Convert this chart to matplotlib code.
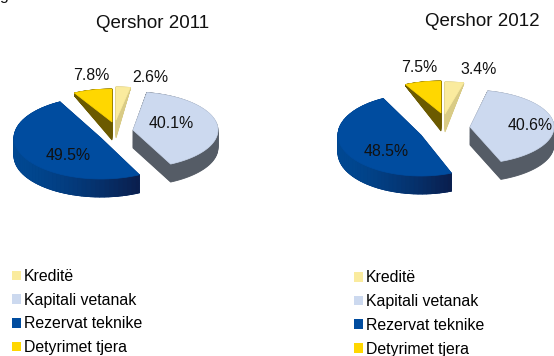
import numpy as np
import matplotlib
matplotlib.use("Agg")
import matplotlib.pyplot as plt
from matplotlib.patches import Polygon, Patch
from matplotlib.collections import PolyCollection
from matplotlib.colors import to_rgb

plt.rcParams['font.family'] = ['Liberation Sans', 'DejaVu Sans']

categories = ["Kreditë", "Kapitali vetanak", "Rezervat teknike", "Detyrimet tjera"]
values_2011 = [2.6, 40.1, 49.5, 7.8]
values_2012 = [3.4, 40.6, 48.5, 7.5]
titles = ["Qershor 2011", "Qershor 2012"]

top_colors = ["#FAEB9E", "#CCD9EF", "#004C9F", "#FFD700"]
side_colors = ["#D9CB85", "#555C66", "#00337A", "#6B5A00"]

# layout (pixels): per-slice apex x, apex y, radius x, radius y
geom_2011 = [(116, 120, 88, 33), (133, 130, 85, 38), (101, 138, 87, 41), (112, 122, 80, 33)]
geom_2012 = [(445, 114, 88, 32), (470, 127, 84, 37), (421, 135, 83, 41), (441, 113, 78, 32)]
label_pos_2011 = [(150, 77), (171, 124), (68, 155), (91, 76)]
label_pos_2012 = [(479, 70), (530, 125), (386, 151), (419, 68)]
title_pos = [(153, 24), (482, 21)]
back_y = [88, 82]
depth = 18

fig = plt.figure(figsize=(5.54, 3.56), dpi=100)
ax = fig.add_axes([0, 0, 1, 1])
ax.set_xlim(0, 554)
ax.set_ylim(356, 0)
ax.axis('off')


def draw_pie(values, geom, labels_at, title, tpos, y0):
    edges = np.cumsum([0] + list(values)) / sum(values) * 2 * np.pi
    for i, (g, lp) in enumerate(zip(geom, labels_at)):
        cx, cy, rx, ry = g
        a = np.linspace(edges[i], edges[i + 1], 60)
        rim = np.column_stack([cx + rx * np.sin(a), cy - ry * np.cos(a)])
        pts = np.vstack([[cx, cy], rim])
        off = depth * np.clip((pts[:, 1] - y0) / 30, 0.08, 1)
        for t in np.linspace(1, 0.02, 24):
            shifted = pts.copy()
            shifted[:, 1] += t * off
            ax.add_patch(Polygon(shifted, closed=True, fc=side_colors[i], ec=side_colors[i], lw=0.6))
        if i == 2:  # horizontal shading on the outer rim of the large slice
            r = pts[1:]
            o = off[1:]
            quads, cols = [], []
            left, right = r[:, 0].min(), r[:, 0].max()
            c0 = np.array(to_rgb("#004892"))
            c1 = np.array(to_rgb("#0A1F4E"))
            for k in range(len(r) - 1):
                quads.append([r[k], r[k + 1], r[k + 1] + [0, o[k + 1]], r[k] + [0, o[k]]])
                f = (r[k, 0] - left) / (right - left)
                cols.append(c0 + (c1 - c0) * f ** 1.5)
            ax.add_collection(PolyCollection(quads, facecolors=cols, edgecolors=cols, linewidths=0.6))
        ax.add_patch(Polygon(pts, closed=True, fc=top_colors[i], ec=top_colors[i], lw=0.5))
        ax.text(lp[0], lp[1], f"{values[i]:.1f}%", ha='center', va='center', fontsize=11.4, color='#111111')
    ax.text(tpos[0], tpos[1], title, ha='center', va='center', fontsize=13.5, color='#111111')


draw_pie(values_2011, geom_2011, label_pos_2011, titles[0], title_pos[0], back_y[0])
draw_pie(values_2012, geom_2012, label_pos_2012, titles[1], title_pos[1], back_y[1])

handles = [Patch(fc=c, ec='none', label=n) for c, n in zip(top_colors, categories)]
legend_kw = dict(handles=handles, frameon=False, fontsize=11.4, handlelength=0.57, handleheight=0.57,
                 handletextpad=0.19, labelspacing=0.55, borderpad=0, borderaxespad=0,
                 loc='upper left', bbox_transform=ax.transData)
leg1 = ax.legend(bbox_to_anchor=(12, 269), **legend_kw)
ax.add_artist(leg1)
ax.legend(bbox_to_anchor=(354, 270.5), **legend_kw)

ax.text(4, 0, "g", ha='center', va='baseline', fontsize=11.4, color='#111111', clip_on=False)

fig.savefig("out.png", dpi=100)
